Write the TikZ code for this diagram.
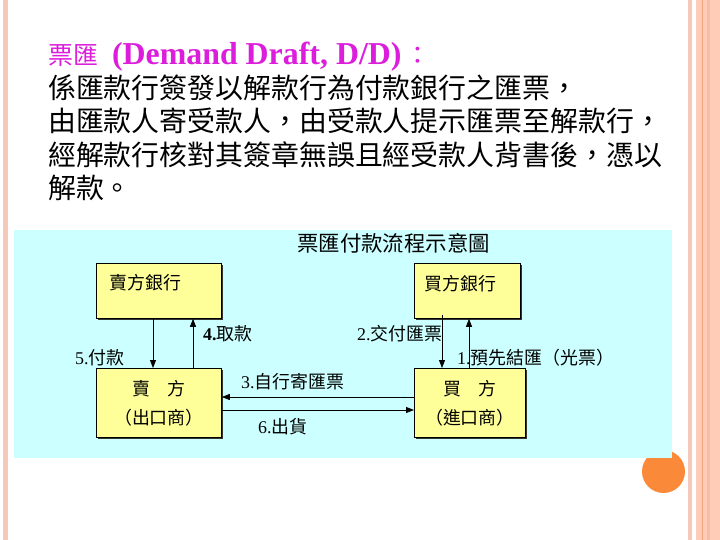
\documentclass[tikz,border=0pt]{standalone}
\usepackage{fontspec}
\setmainfont{Liberation Serif}
\newfontfamily\cjk{Noto Sans CJK TC}
\usetikzlibrary{arrows.meta,shadows}
\definecolor{slidecyan}{RGB}{204,255,255}
\definecolor{boxyellow}{RGB}{255,255,153}
\definecolor{headmagenta}{RGB}{220,30,220}
\definecolor{stripepink}{RGB}{246,200,186}
\definecolor{stripesalmon}{RGB}{255,204,184}
\definecolor{stripeline}{RGB}{240,162,128}
\definecolor{dotorange}{RGB}{250,138,58}
\tikzset{
  box/.style={draw=black,fill=boxyellow,line width=0.8pt,anchor=north west,
    drop shadow={shadow xshift=1.3bp,shadow yshift=-1.3bp,opacity=1,fill=black!80}},
  boxtext/.style={font=\cjk\fontsize{18}{29}\selectfont,inner sep=0pt,align=center},
  flowlabel/.style={font=\fontsize{18}{20}\selectfont,inner sep=0pt,anchor=west},
  bodyline/.style={font=\cjk\fontsize{28}{34}\selectfont,inner sep=0pt,anchor=base west}
}
\begin{document}
\begin{tikzpicture}[x=1bp,y=-1bp,>={Triangle[length=8bp,width=6bp]}]
  \useasboundingbox (0,0) rectangle (720,540);
  \fill[white] (0,0) rectangle (720,540);
  % slide frame
  \fill[stripepink] (3,0) rectangle (8,540);
  \fill[stripepink] (688,0) rectangle (692,540);
  \fill[stripesalmon] (696,0) rectangle (720,540);
  \draw[stripeline,line width=1.2bp] (702.5,0) -- (702.5,540);
  \fill[stripeline!40!stripesalmon] (707,0) rectangle (710,540);
  \fill[dotorange] (663.5,471.5) circle (21.5);
  % heading and body text
  \node[bodyline,text=headmagenta] (head) at (48,65)
    {\fontsize{25}{28}\selectfont 票匯\hspace{14bp}{\rmfamily\bfseries\fontsize{32}{34}\selectfont(Demand Draft, D/D)}\hspace{4bp}：};
  \node[bodyline] (body1) at (48,98.5) {係匯款行簽發以解款行為付款銀行之匯票，};
  \node[bodyline] (body2) at (48,132) {由匯款人寄受款人，由受款人提示匯票至解款行，};
  \node[bodyline] (body3) at (48,165.5) {經解款行核對其簽章無誤且經受款人背書後，憑以};
  \node[bodyline] (body4) at (48,199) {解款。};
  % diagram
  \fill[slidecyan] (14,230) rectangle (672,458);
  \node[inner sep=0pt,anchor=west,font=\cjk\fontsize{21.5}{24}\selectfont] (title) at (297,243) {票匯付款流程示意圖};
  \node[box,minimum width=125bp,minimum height=55bp] (sellerbank) at (96,263) {};
  \node[box,minimum width=106bp,minimum height=55bp] (buyerbank) at (414,263) {};
  \node[box,minimum width=125bp,minimum height=69bp] (seller) at (96,368) {};
  \node[box,minimum width=111bp,minimum height=69bp] (buyer) at (414,368) {};
  \node[boxtext,anchor=west] (sellerbanktxt) at ([xshift=13bp,yshift=-20bp]sellerbank.north west) {賣方銀行};
  \node[boxtext,anchor=west] (buyerbanktxt) at ([xshift=10bp,yshift=-21bp]buyerbank.north west) {買方銀行};
  \node[boxtext] (sellertxt) at (seller.center) {賣　方\\（出口商）};
  \node[boxtext] (buyertxt) at (buyer.center) {買　方\\（進口商）};
  \draw[->,line width=0.8pt] ([xshift=57bp]sellerbank.south west) -- ([xshift=57bp]seller.north west);
  \draw[->,line width=0.8pt] ([xshift=97bp]seller.north west) -- ([xshift=97bp]sellerbank.south west);
  \draw[->,line width=0.8pt] ([xshift=28bp,yshift=4bp]buyerbank.south west) -- ([xshift=28bp]buyer.north west);
  \draw[->,line width=0.8pt] ([xshift=55bp]buyer.north west) -- ([xshift=55bp]buyerbank.south west);
  \draw[->,line width=0.8pt] ([yshift=-29bp]buyer.north west) -- ([yshift=-29bp]seller.north east);
  \draw[->,line width=0.8pt] ([yshift=-42bp]seller.north east) -- ([yshift=-42bp]buyer.north west);
  \node[flowlabel] (pay) at (75,358) {5.{\cjk 付款}};
  \node[flowlabel] (collect) at (203,334) {\textbf{4.}{\cjk 取款}};
  \node[flowlabel] (deliver) at (357,334) {2.{\cjk 交付匯票}};
  \node[flowlabel] (settle) at (457,358) {1.{\cjk 預先結匯（光票）}};
  \node[flowlabel] (mail) at (241,382) {3.{\cjk 自行寄匯票}};
  \node[flowlabel] (ship) at (258,427) {6.{\cjk 出貨}};
\end{tikzpicture}
\end{document}
